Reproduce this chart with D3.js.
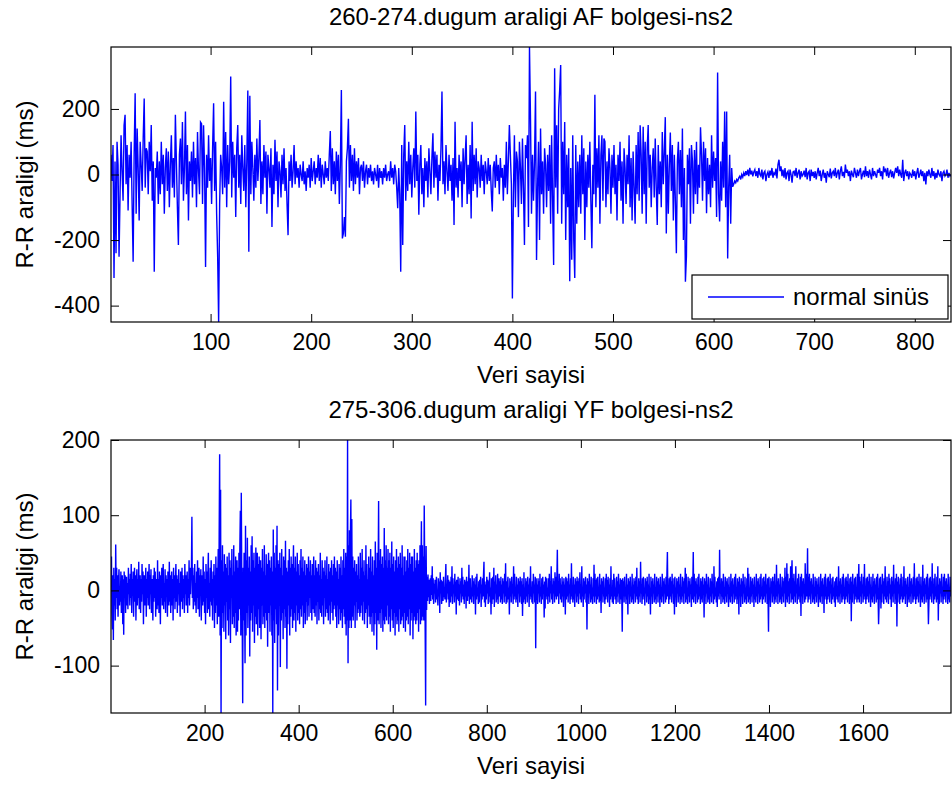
<!DOCTYPE html>
<html>
<head>
<meta charset="utf-8">
<script src="https://cdn.jsdelivr.net/npm/d3@7"></script>
<style>
  html, body { margin: 0; padding: 0; background: #fff; }
  svg { display: block; }
  text { font-family: "Liberation Sans", Arial, sans-serif; fill: #000; }
</style>
</head>
<body>
<svg id="chart" width="952" height="785"></svg>
<script>
// ---------------- DATA ----------------
const topTitle = "260-274.dugum araligi AF bolgesi-ns2";
const bottomTitle = "275-306.dugum araligi YF bolgesi-ns2";
const xLabel = "Veri sayisi";
const yLabel = "R-R araligi (ms)";
const legendLabel = "normal sinüs";

const topXTicks = [100, 200, 300, 400, 500, 600, 700, 800];
const topYTicks = [-400, -200, 0, 200];
const bottomXTicks = [200, 400, 600, 800, 1000, 1200, 1400, 1600];
const bottomYTicks = [-100, 0, 100, 200];

// R-R interval deviations (ms), AF region, one value per beat
const topValues = [
60,-20,90,-316,40,-240,100,30,-251,-60,120,10,-80,150,182,-30,90,-110,60,-10,
100,-90,-266,60,248,-120,140,20,-140,100,30,-50,110,232,-40,80,70,-60,100,10,
151,-80,40,-297,20,-10,70,-90,40,-60,100,-30,60,-120,20,80,-50,70,-100,30,
120,-40,50,-70,182,40,-100,-215,60,110,-30,160,-80,20,192,-60,90,-140,40,-20,
70,-70,100,-30,50,-100,130,10,-60,160,155,-90,150,20,-282,60,-40,120,-20,50,
-90,80,217,-50,100,-120,-246,-450,-90,60,20,-60,222,-40,130,-100,90,-30,40,299,
-70,100,-10,60,-130,80,151,-40,60,-90,120,20,-50,90,-100,40,256,-236,240,-60,
100,20,-80,60,-40,110,-20,50,166,-90,40,-60,90,-10,70,-120,60,20,-40,80,
-160,30,-60,106,-20,70,-100,40,10,-70,60,-30,80,-50,20,-90,-185,40,-20,60,
-40,10,90,-30,40,-10,20,-40,30,0,-20,40,-30,10,-50,20,-10,30,-40,50,
-20,10,40,-30,20,-10,60,-20,50,-40,30,0,-30,40,-10,20,-20,60,133,-50,
80,-30,40,-60,70,-20,60,-90,30,258,-195,-180,-130,-190,40,80,170,-40,90,-20,
60,-50,80,-30,40,-10,50,-60,20,30,-20,40,-40,10,30,-30,20,-10,30,-20,
10,-30,20,0,-20,30,-40,20,-10,10,-30,20,-10,30,-20,0,10,-20,40,-10,
20,-30,30,10,-40,-103,20,-60,-297,90,-215,60,151,-80,40,-50,100,-30,60,-70,
20,80,-40,192,-20,60,-123,30,90,-60,20,-100,50,-20,40,-70,80,10,-60,50,
126,-40,70,-10,60,-80,30,-20,80,253,-30,40,-60,90,10,-50,60,-20,30,-80,
50,-154,161,-40,20,-70,60,-20,40,-100,80,-30,50,120,-90,30,-60,90,-134,161,
-50,60,-30,80,-70,40,20,-40,60,-20,30,-60,40,10,-30,50,-20,30,-50,-113,
20,40,-40,60,-20,30,-60,50,-10,20,-80,30,-40,100,-60,40,151,60,-30,-378,
-60,120,-100,70,40,-130,100,20,-90,110,-40,-215,90,50,120,-160,389,170,-120,60,
-80,40,253,-261,-40,100,-200,140,-60,40,-120,80,30,-100,60,-50,90,-150,120,-80,
-276,324,-40,150,-120,200,258,334,-150,100,-60,160,-200,60,-100,80,-326,20,-260,120,
-200,-316,90,-150,40,-100,60,-120,120,-60,80,-200,40,-100,60,-40,100,-80,-225,30,
-60,243,-100,80,-40,120,-150,60,120,-80,110,100,-100,40,-60,80,20,-120,60,-40,
90,-60,30,-140,60,-20,100,-80,40,-150,80,20,-90,60,-30,120,-100,50,-140,70,
-40,-150,90,-60,130,-80,150,60,-120,146,-60,100,-150,80,151,-40,60,-100,20,80,
-70,110,-40,-154,90,-60,40,-100,130,-30,70,175,-180,60,-120,30,128,-50,90,-140,
60,-80,-240,40,100,-60,75,-100,140,-200,20,-327,-250,60,-30,80,-150,90,40,-120,
75,-60,100,-90,30,-40,144,60,-80,100,-20,80,-118,50,-60,30,-100,120,-40,70,
-20,50,-130,311,-60,-143,40,-80,100,-40,192,-100,192,-256,-40,60,-150,20,-37,-30,
-20,-25,-15,-20,-10,-5,-15,0,-8,5,-5,10,-2,15,-5,20,0,12,-6,8,
15,-5,10,-10,20,0,-5,15,-15,5,10,-20,0,8,-10,12,-3,20,-10,5,
0,18,-12,30,45,10,25,-5,15,-10,20,-15,5,10,-20,15,0,-25,8,10,
-5,20,-10,5,15,-15,10,-5,0,12,-8,20,-15,5,10,-20,15,-5,8,-10,
10,-15,5,20,-5,12,-20,0,15,-10,5,-25,10,0,-8,18,-12,5,10,-5,
20,-10,5,15,-15,10,25,-5,8,-10,30,5,15,-5,10,-20,12,0,-8,20,
5,-10,15,-5,10,20,-15,0,12,-8,25,-5,10,-10,15,0,-15,20,-5,10,
0,-10,15,5,20,-5,10,-15,25,10,15,-5,20,-10,5,15,-8,10,-12,5,
20,5,25,-5,15,0,-10,45,-20,5,15,-5,10,-15,5,0,-10,15,-5,10,
-15,5,20,-10,0,15,-5,10,-20,5,-30,10,-5,15,0,-10,20,-5,10,-15,
5,-10,15,0,-5,10,-20,5,10,-5,0,15,-10,5,-5,0
];

// R-R interval deviations (ms), VF region
const bottomValues = [
10,45,-30,-52,20,-66,30,-20,15,-40,61,-10,30,-25,20,-35,10,28,-20,5,
-15,25,-30,10,20,-45,15,-59,25,-10,20,-30,5,18,-20,10,-25,30,-5,15,
-20,22,-10,35,-30,15,-5,25,-35,10,30,-15,20,-40,5,28,-20,15,-10,38,
-25,10,20,-30,15,-15,35,-5,25,-45,10,20,-20,5,30,-35,15,-10,25,-20,
10,35,-25,20,-5,28,-30,15,5,-40,20,-15,30,-10,25,-35,10,15,-25,40,
-20,15,-30,25,5,-45,20,-10,30,-20,15,35,-25,10,-15,28,-30,20,-5,15,
-35,25,10,-20,38,-15,20,-30,5,25,-20,15,-40,30,-10,20,-25,10,35,-15,
20,-30,15,-5,28,-20,10,-35,25,5,-15,30,-25,20,-10,15,-30,35,-5,20,
-20,10,25,-30,15,-10,40,-20,30,-5,20,25,98,-10,30,-25,20,-15,35,-20,
10,-30,25,-10,40,-25,15,30,-35,20,-5,28,-40,15,20,-20,45,-15,25,-30,
15,-45,35,-10,25,-30,20,50,-25,10,-35,30,-15,40,-20,15,-40,25,-10,35,
-50,20,-30,45,-20,30,-45,15,55,-35,
75,181,-60,134,-163,40,-50,60,-30,25,-55,48,-20,35,-65,30,-15,45,-40,20,
-60,50,-25,40,-70,30,-10,55,-45,20,-35,60,-50,25,-30,45,-60,15,40,-55,
30,-40,50,-25,60,106,-60,130,20,-45,-150,30,-40,50,-20,-97,86,-60,40,-30,
70,-50,30,-20,45,-88,25,-40,60,-30,72,-55,40,-20,50,-70,30,-35,57,-45,
20,50,-60,35,-25,45,-50,10,40,-65,30,-20,55,-45,25,-35,60,-50,20,-30,
48,-40,35,-75,20,50,-30,40,-55,30,-20,45,-60,25,-163,81,-40,50,-70,30,
-25,60,-45,86,-133,40,-60,35,-20,50,-102,30,-40,55,-30,20,-65,45,-25,40,
-50,66,-35,30,-104,25,-45,40,-20,55,-60,30,-35,45,-25,35,-50,20,60,-40,
30,-30,45,-55,25,-20,50,-40,35,-30,20,-45,40,-25,55,-35,30,-20,45,-50,
25,-30,40,-45,20,-15,35,-40,30,-20,45,-35,25,-10,40,-30,20,-40,35,-25,
15,45,-30,20,-35,40,-20,30,-45,25,-15,35,-40,20,-25,50,-30,15,-35,40,
-20,30,-45,25,-10,40,-35,20,-25,45,-30,15,-40,35,-20,25,-45,30,-15,40,
-30,20,-40,35,-25,45,-20,30,-35,25,-50,40,-20,15,-45,35,-25,30,-40,45,
-30,20,-50,40,-25,55,-35,30,-45,50,-60,45,-40,200,-97,60,-50,80,-40,70,
121,-50,95,-35,45,-40,30,-20,40,-50,25,-15,35,-40,20,-30,45,-25,15,-35,
50,-30,30,-20,55,-40,25,-15,40,-45,20,-30,60,-25,35,-50,15,-20,45,-35,
30,-45,55,-35,25,-55,45,-30,20,-60,40,-45,65,-30,30,-79,50,-40,20,119,
-45,40,-30,55,-50,35,-25,45,-55,30,-40,83,-45,40,-35,60,-40,30,-20,55,
-45,40,-35,50,-55,30,-25,65,-40,35,-50,45,-30,25,-60,40,-35,55,-45,30,
-40,45,-55,35,-25,50,-45,30,-40,60,-35,20,-50,45,-30,45,-55,25,-40,40,
-35,55,-45,30,-25,50,-60,35,-40,45,-30,45,-65,25,-40,55,-35,30,-45,40,
-40,50,-30,35,-55,40,-25,60,-45,30,92,-40,60,-35,45,-40,113,30,-55,-153,
59,-26,18,-14,21,-9,14,-18,8,16,-14,20,-6,32,-12,16,-18,9,-4,14,
-16,6,18,-12,0,-20,16,-8,12,-30,24,-4,14,-18,8,12,-14,18,-9,4,
-12,16,35,-16,8,-4,20,-12,14,-22,12,4,-16,18,-8,32,-18,16,-4,8,
-16,22,-8,12,-32,14,4,-12,18,-14,8,-20,16,-4,12,-16,30,-8,18,-12,
8,-18,14,-8,12,-24,18,4,-14,12,-8,34,-18,8,16,-12,4,-16,20,-8,
12,-18,16,-4,8,-32,18,-12,22,-8,4,-18,12,-16,14,-4,18,-22,8,-12,
16,-8,20,38,-16,12,-22,8,-12,18,-4,14,-18,12,-8,24,-16,4,-32,16,
-18,8,18,-12,30,-22,12,-4,20,-16,8,-12,22,-18,4,16,-8,12,-16,18,
-12,8,-18,16,-4,12,-16,22,-8,36,-18,12,-16,8,18,-12,4,-32,16,-8,
12,-16,18,-4,8,-18,32,-12,22,-8,4,-16,18,-12,8,-22,16,-4,12,-16,
18,-8,12,-18,16,-34,8,-16,24,-12,4,-18,16,-8,12,-16,18,-4,8,-22,
16,-12,32,-8,4,-16,12,-18,22,-4,8,-16,18,-77,16,-12,8,-18,16,-4,
12,-16,22,-8,4,-18,16,-12,18,-4,8,-36,12,-24,18,-8,16,-12,4,-18,
16,-8,22,-16,12,-4,32,-12,8,-18,16,-4,12,-16,24,-8,18,-12,16,54,
-8,12,-18,22,-4,16,-12,8,-16,18,-8,12,-22,16,-4,8,-32,18,-12,16,
-8,12,-16,22,-4,8,-18,16,-12,36,-8,4,-16,18,-12,8,-22,16,-4,12,
-16,18,-8,12,-18,16,-4,24,-12,8,-16,32,-8,4,-22,16,-12,12,-4,18,
-16,8,-52,16,-8,12,-18,22,-4,8,-16,18,-12,4,-18,16,-8,34,-16,22,
-8,14,-18,16,-12,18,-8,4,-16,22,-14,8,-30,16,-4,12,-16,18,-8,4,
-18,16,-12,22,-8,14,-16,18,-4,8,-22,16,-12,32,-8,4,-16,14,-18,22,
-8,16,-12,4,-18,18,-8,12,-16,22,-4,8,-18,16,-12,14,-8,-55,16,-4,
12,-16,18,-8,4,-18,22,-12,8,-32,16,-4,12,-18,18,-8,4,-16,22,-12,
8,-18,16,-4,12,-16,18,-8,30,-12,4,-18,16,-8,12,-16,38,-4,8,-18,
16,-12,18,-8,4,-20,16,-4,12,-16,18,-8,8,-18,22,-12,4,-32,18,-8,
12,-18,16,-4,8,-16,22,-12,4,-18,18,-8,12,-16,16,-4,8,-22,18,-12,
4,-16,22,-8,12,-18,16,-4,8,-16,18,-12,22,51,-8,4,-18,16,-12,18,
-8,12,-16,22,-4,8,-18,16,-32,18,-8,4,-22,16,-4,12,-16,18,-8,8,
-18,22,-12,4,-16,18,-8,12,-18,16,-4,30,-16,22,-12,4,-18,18,-8,12,
-16,16,-4,8,-22,18,-12,4,51,-16,22,-8,12,-18,16,-4,8,-16,18,-12,
22,-8,4,-18,16,-12,12,-16,18,-4,8,-36,16,-8,12,-18,22,-4,8,-16,
18,-12,4,-18,16,-8,12,-16,22,-4,8,-18,32,-12,18,-8,4,-16,12,-22,
16,-8,18,-12,54,-4,8,-18,16,-8,12,-16,22,-12,4,-18,18,-8,12,-16,
16,-4,8,-22,18,-12,4,-16,22,-8,12,-18,16,-4,8,-16,18,-12,22,-8,
4,-18,16,-12,12,-32,18,-4,8,-22,16,-8,12,-18,22,-4,8,-16,18,-12,
4,-18,16,-8,30,-16,22,-12,4,-18,18,-8,12,-16,16,-4,8,-22,18,-12,
4,-16,22,-8,12,-18,16,-4,8,-16,18,-12,22,-8,4,-18,16,-12,18,-8,
12,-16,22,-4,8,-18,16,-12,-55,18,-8,4,-22,16,-4,12,-16,18,-8,12,
-18,22,-12,4,-16,34,-8,12,-18,16,-4,8,-16,22,-12,4,-18,18,-8,12,
-16,16,-4,30,-22,18,-12,36,-16,22,-8,12,-18,16,-4,32,-16,18,40,-12,
16,-18,22,-8,12,-16,32,-4,8,-18,16,-12,22,-8,4,-16,18,-34,22,-8,
12,-18,16,-4,8,-16,36,-12,22,-8,4,56,-16,18,-12,22,-8,12,-18,16,
-4,8,-16,22,-12,4,-18,18,-8,12,-16,16,-4,8,-22,18,-12,4,-16,22,
-8,12,-18,16,-4,8,-30,18,-12,22,-8,4,-18,16,-12,18,-8,12,-16,22,
-4,8,-18,16,-12,18,-8,4,-16,12,-22,16,-8,18,-12,4,-16,32,-8,12,
-18,16,-4,8,-16,18,-12,22,-8,4,-18,16,-12,18,-8,12,-16,22,-4,8,
-18,16,-12,18,-41,12,-16,22,-4,8,-18,16,-12,18,-8,4,-16,22,-12,8,
35,-16,18,-8,12,-18,22,-4,8,-16,18,-12,35,-8,4,-18,16,-12,18,-8,
12,-16,22,-4,8,-22,18,-12,4,-16,22,-8,12,-18,16,-4,8,-16,18,-12,
22,-8,-45,-22,16,-12,18,-24,8,-16,22,-4,12,-18,16,-8,32,-12,4,-16,
18,-8,12,-18,22,-4,16,-12,8,-22,18,-8,12,-16,34,-4,8,-18,16,-12,
22,-48,12,-16,18,-4,8,-18,16,-12,22,-8,4,-16,18,-12,32,-8,12,-18,
16,-4,8,-22,18,-12,4,-16,22,-8,12,-18,16,-4,8,-16,18,-12,36,-8,
4,-18,16,-12,18,-8,12,-16,22,-4,8,-22,18,-12,4,-16,34,-8,12,-18,
16,-4,8,-16,18,-12,22,-8,-45,-18,16,-12,18,-8,12,-16,36,-4,8,-18,
16,-12,22,-8,4,-16,18,-12,32,-40,8,-18,16,-4,12,-16,22,-8,4,-18,
18,-12,22,-8,12,-16,16,-4,8,-18,22,-12,4,-16,18,-8,4
];

// ---------------- DRAWING ----------------
const svg = d3.select("#chart");
const FONT_TICK = 23, FONT_LABEL = 24;
const lineColor = "#0000ff";

function drawPanel(id, values, xTicks, yTicks, box, title, withLegend) {
  const x = d3.scaleLinear().domain([1, values.length]).range([box.l, box.r]);
  const y = d3.scaleLinear().domain(d3.extent(values)).range([box.b, box.t]);
  const g = svg.append("g");

  g.append("clipPath").attr("id", "clip-" + id)
    .append("rect").attr("x", box.l).attr("y", box.t)
    .attr("width", box.r - box.l).attr("height", box.b - box.t);

  const line = d3.line().x((d, i) => x(i + 1)).y(d => y(d));
  g.append("path").datum(values)
    .attr("clip-path", "url(#clip-" + id + ")")
    .attr("fill", "none").attr("stroke", lineColor)
    .attr("stroke-width", 1.4).attr("stroke-linejoin", "miter")
    .attr("d", line);

  const fmt = d => String(d);
  const styleAxis = sel => {
    sel.select(".domain").remove();
    sel.selectAll(".tick line").attr("stroke", "#000").attr("stroke-width", 1);
    sel.selectAll(".tick text").attr("font-size", FONT_TICK)
      .attr("font-family", "Liberation Sans, Arial, sans-serif").attr("fill", "#000");
  };

  g.append("g").attr("transform", `translate(0,${box.b})`)
    .call(d3.axisBottom(x).tickValues(xTicks).tickSizeInner(-8).tickSizeOuter(0).tickPadding(12).tickFormat(fmt))
    .call(styleAxis);
  g.append("g").attr("transform", `translate(0,${box.t})`)
    .call(d3.axisTop(x).tickValues(xTicks).tickSizeInner(-8).tickSizeOuter(0).tickFormat(""))
    .call(styleAxis);
  g.append("g").attr("transform", `translate(${box.l},0)`)
    .call(d3.axisLeft(y).tickValues(yTicks).tickSizeInner(-8).tickSizeOuter(0).tickPadding(11).tickFormat(fmt))
    .call(styleAxis);
  g.append("g").attr("transform", `translate(${box.r},0)`)
    .call(d3.axisRight(y).tickValues(yTicks).tickSizeInner(-8).tickSizeOuter(0).tickFormat(""))
    .call(styleAxis);

  g.append("rect").attr("x", box.l).attr("y", box.t)
    .attr("width", box.r - box.l).attr("height", box.b - box.t)
    .attr("fill", "none").attr("stroke", "#000").attr("stroke-width", 1.2);

  const cx = (box.l + box.r) / 2;
  g.append("text").attr("x", cx).attr("y", box.t - 22)
    .attr("text-anchor", "middle").attr("font-size", FONT_LABEL).text(title);
  g.append("text").attr("x", cx).attr("y", box.b + 61)
    .attr("text-anchor", "middle").attr("font-size", FONT_LABEL).text(xLabel);
  g.append("text")
    .attr("transform", `translate(33,${(box.t + box.b) / 2}) rotate(-90)`)
    .attr("text-anchor", "middle").attr("font-size", FONT_LABEL).text(yLabel);

  if (withLegend) {
    const lg = g.append("g");
    lg.append("rect").attr("x", 692).attr("y", 275).attr("width", 256).attr("height", 44)
      .attr("fill", "#fff").attr("stroke", "#000").attr("stroke-width", 1.2);
    lg.append("line").attr("x1", 708).attr("x2", 784).attr("y1", 297).attr("y2", 297)
      .attr("stroke", lineColor).attr("stroke-width", 1.4);
    lg.append("text").attr("x", 793).attr("y", 305).attr("font-size", FONT_LABEL).text(legendLabel);
  }
}

drawPanel("top", topValues, topXTicks, topYTicks, {l: 111, r: 951, t: 47, b: 322}, topTitle, true);
drawPanel("bottom", bottomValues, bottomXTicks, bottomYTicks, {l: 111, r: 951, t: 440, b: 713}, bottomTitle, false);
</script>
</body>
</html>
